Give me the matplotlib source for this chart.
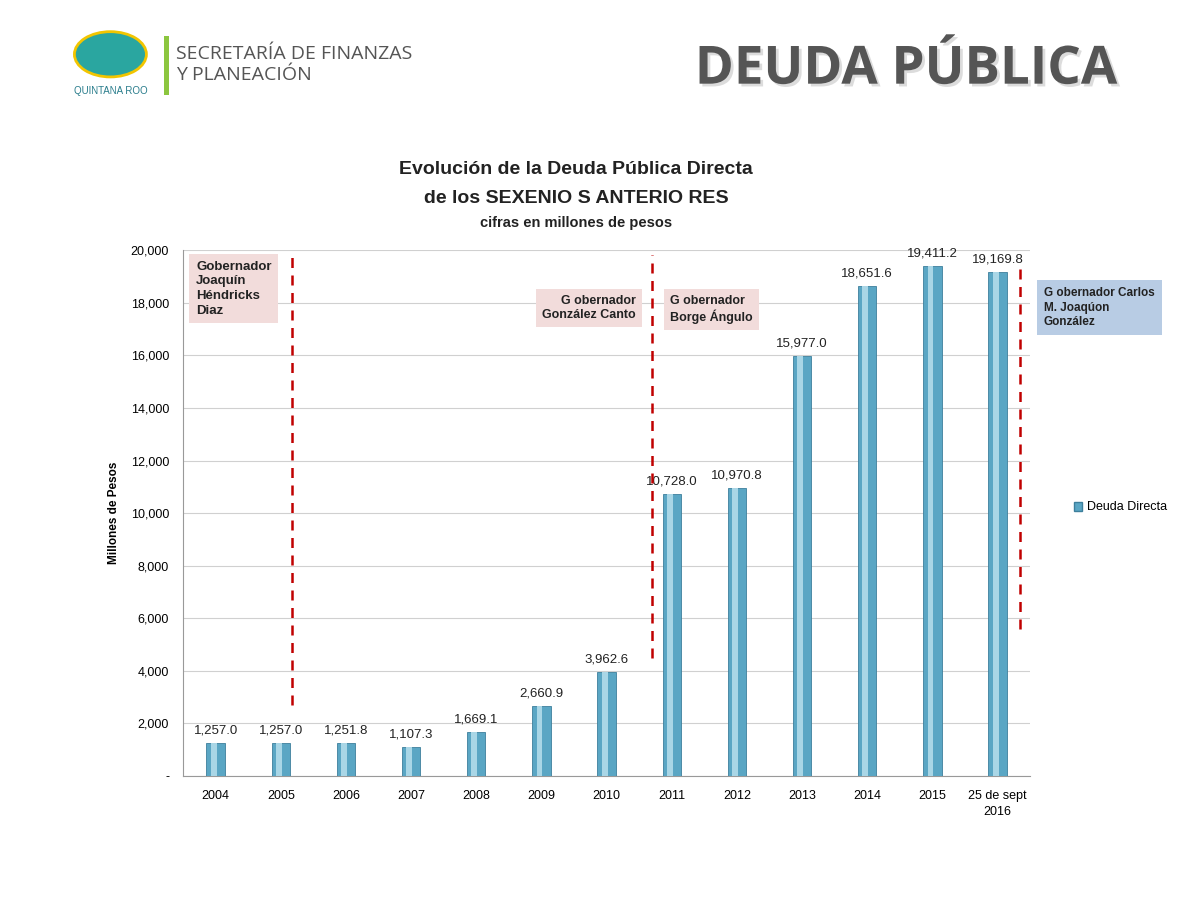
import numpy as np
import matplotlib
matplotlib.use('Agg')
import matplotlib.pyplot as plt
import matplotlib.patheffects as pe

plt.rcParams['font.family'] = ['Liberation Sans', 'DejaVu Sans']

years = ['2004', '2005', '2006', '2007', '2008', '2009', '2010', '2011',
         '2012', '2013', '2014', '2015', '25 de sept\n2016']
deuda = [1257.0, 1257.0, 1251.8, 1107.3, 1669.1, 2660.9, 3962.6, 10728.0,
         10970.8, 15977.0, 18651.6, 19411.2, 19169.8]
labels = ['1,257.0', '1,257.0', '1,251.8', '1,107.3', '1,669.1', '2,660.9', '3,962.6',
          '10,728.0', '10,970.8', '15,977.0', '18,651.6', '19,411.2', '19,169.8']

fig = plt.figure(figsize=(12, 9.05), dpi=100)
ax = fig.add_axes([0.1525, 0.1425, 0.706, 0.581])

x = np.arange(len(years))
ax.bar(x, deuda, width=0.28, color='#5aa6c4', edgecolor='#3d7f9c', linewidth=0.6, zorder=3)
ax.bar(x - 0.03, deuda, width=0.09, color='#a9d6e6', linewidth=0, zorder=4)
for xi, v, lab in zip(x, deuda, labels):
    ax.text(xi, v + 250, lab, ha='center', va='bottom', fontsize=9.5, color='#222222', zorder=5)

ax.set_xlim(-0.5, 12.5)
ax.set_ylim(0, 20000)
ticks = np.arange(0, 20001, 2000)
ax.set_yticks(ticks)
ax.set_yticklabels(['-'] + [f'{t:,}' for t in ticks[1:]], fontsize=9)
ax.set_xticks(x)
ax.set_xticklabels(years, fontsize=9, linespacing=1.4)
ax.tick_params(length=0, pad=10)
ax.grid(axis='y', color='#d0d0d0', linewidth=0.8, zorder=0)
for s in ['top', 'right']:
    ax.spines[s].set_visible(False)
ax.spines['left'].set_color('#999999')
ax.spines['bottom'].set_color('#999999')
ax.set_ylabel('Millones de Pesos', fontsize=8.5, fontweight='bold', labelpad=8)

# dashed period dividers
for xd, y0, y1 in [(1.17, 2700, 19800), (6.69, 4500, 19800), (12.34, 5600, 19300)]:
    ax.plot([xd, xd], [y0, y1], color='#c00000', linestyle=(0, (4, 3)), linewidth=1.8,
            clip_on=False, zorder=6)

pink = dict(boxstyle='square,pad=0.5', facecolor='#f2dcdb', edgecolor='none')
ax.text(-0.3, 19600, 'Gobernador\nJoaquín\nHéndricks\nDiaz', fontsize=9.5, fontweight='bold',
        va='top', ha='left', bbox=pink, color='#222222', linespacing=1.3)
ax.text(6.45, 18300, 'G obernador\nGonzález Canto', fontsize=9, fontweight='bold',
        va='top', ha='right', multialignment='right', bbox=pink, color='#222222')
ax.text(6.97, 18300, 'G obernador\nBorge Ángulo', fontsize=9, fontweight='bold',
        va='top', ha='left', bbox=pink, color='#222222')
fig.text(0.87, 0.683, 'G obernador Carlos\nM. Joaqúon\nGonzález', fontsize=8.5,
         fontweight='bold', va='top', ha='left', color='#222222', linespacing=1.3,
         bbox=dict(boxstyle='square,pad=0.6', facecolor='#b8cce4', edgecolor='none'))

# legend
fig.patches.append(plt.Rectangle((0.895, 0.435), 0.007, 0.01, transform=fig.transFigure,
                                 facecolor='#5aa6c4', edgecolor='#3d7f9c'))
fig.text(0.906, 0.440, 'Deuda Directa', fontsize=9, va='center')

# titles
fig.text(0.48, 0.808, 'Evolución de la Deuda Pública Directa', fontsize=14, ha='center',
         fontweight='bold', color='#222222')
fig.text(0.48, 0.776, 'de los SEXENIO S ANTERIO RES', fontsize=14, ha='center',
         fontweight='bold', color='#222222')
fig.text(0.48, 0.749, 'cifras en millones de pesos', fontsize=10.5, ha='center',
         fontweight='bold', color='#222222')

# header
fig.text(0.755, 0.923, 'DEUDA PÚBLICA', fontsize=38, ha='center', va='center',
         fontweight='bold', color='#555555', family='Open Sans',
         path_effects=[pe.withSimplePatchShadow(offset=(2, -2), shadow_rgbFace='#bbbbbb', alpha=0.5)])
fig.patches.append(plt.Rectangle((0.137, 0.895), 0.004, 0.065, transform=fig.transFigure,
                                 facecolor='#8cc63f', edgecolor='none'))
fig.text(0.147, 0.940, 'SECRETARÍA DE FINANZAS', fontsize=14, color='#555555', va='center',
         family='Open Sans')
fig.text(0.147, 0.917, 'Y PLANEACIÓN', fontsize=14, color='#555555', va='center',
         family='Open Sans')
fig.text(0.092, 0.900, 'QUINTANA ROO', fontsize=7, color='#2a7d8c', ha='center', va='center')
fig.patches.append(matplotlib.patches.Ellipse((0.092, 0.94), 0.06, 0.05, transform=fig.transFigure,
                                              facecolor='#2aa6a0', edgecolor='#f2c500', linewidth=2))

fig.savefig('out.png', dpi=100)
